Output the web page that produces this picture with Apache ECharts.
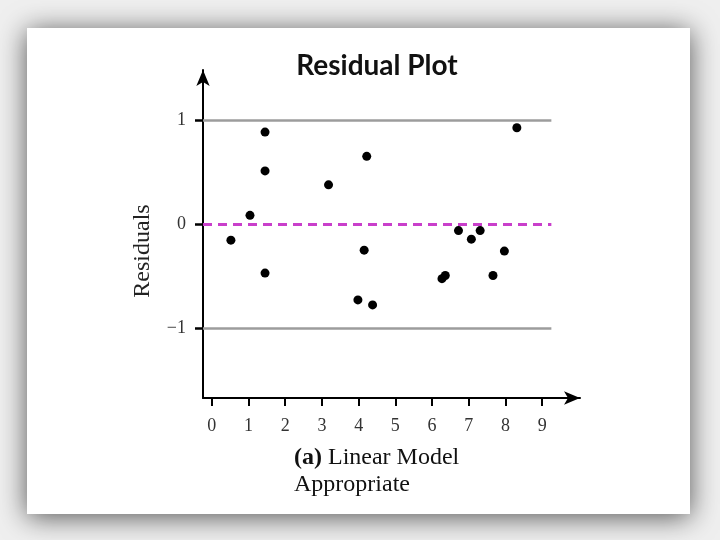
<!DOCTYPE html>
<html>
<head>
<meta charset="utf-8">
<script src="https://cdn.jsdelivr.net/npm/echarts@6/dist/echarts.min.js"></script>
<style>
  html, body { margin: 0; padding: 0; background: #efefef; }
  #chart { width: 720px; height: 540px; }
</style>
</head>
<body>
<div id="chart"></div>
<script>
// Data
const xValues = [0.52, 1.04, 1.45, 1.45, 1.45, 3.18, 3.98, 4.15, 4.22, 4.38, 6.27, 6.36, 6.72, 7.07, 7.31, 7.66, 7.97, 8.31];
const residuals = [-0.156, 0.083, 0.883, 0.51, -0.472, 0.376, -0.73, -0.252, 0.65, -0.778, -0.526, -0.495, -0.064, -0.146, -0.064, -0.495, -0.261, 0.925];
const xTicks = [0, 1, 2, 3, 4, 5, 6, 7, 8, 9];
const yTicks = [-1, 0, 1];
const refLines = [1, -1];
const zeroLine = 0;
const titleText = 'Residual Plot';
const yAxisTitle = 'Residuals';

const xMin = -0.24, xMax = 10.03, yMin = -1.673, yMax = 1.48, lineEnd = 9.25;

const points = xValues.map((x, i) => [x, residuals[i]]);

const markLines = refLines.map(v => [
  { coord: [xMin, v], lineStyle: { color: '#9c9c9c', width: 2.5, type: 'solid' } },
  { coord: [lineEnd, v] }
]);
markLines.push([
  { coord: [xMin, zeroLine], lineStyle: { color: '#c93fcb', width: 3, type: [9, 6] } },
  { coord: [lineEnd, zeroLine] }
]);

const chart = echarts.init(document.getElementById('chart'));
chart.setOption({
  backgroundColor: '#efefef',
  animation: false,
  graphic: [
    {
      type: 'rect', z: -10,
      shape: { x: 27, y: 28, width: 663, height: 486 },
      style: { fill: '#ffffff', shadowBlur: 26, shadowColor: 'rgba(0,0,0,0.65)', shadowOffsetX: 0, shadowOffsetY: 3 }
    },
    {
      type: 'text', x: 377, y: 66,
      style: {
        text: titleText, fontFamily: 'Lato', fontWeight: 'bold', fontSize: 28, fill: '#111',
        align: 'center', verticalAlign: 'middle'
      }
    },
    {
      type: 'text', x: 143, y: 251, rotation: Math.PI / 2,
      style: {
        text: yAxisTitle, fontFamily: 'Liberation Serif', fontSize: 24, fill: '#222',
        align: 'center', verticalAlign: 'middle'
      }
    },
    {
      type: 'text', x: 294, y: 471,
      style: {
        text: '{b|(a)} Linear Model\nAppropriate',
        fontFamily: 'Liberation Serif', fontSize: 24, fill: '#111', lineHeight: 27,
        align: 'left', verticalAlign: 'middle',
        rich: { b: { fontWeight: 'bold', fontFamily: 'Liberation Serif', fontSize: 24 } }
      }
    }
  ],
  grid: { left: 203, right: 140, top: 70, bottom: 142, containLabel: false },
  xAxis: {
    type: 'value', min: xMin, max: xMax,
    axisLine: { show: true, onZero: false, symbol: ['none', 'arrow'], symbolSize: [10, 16],
      lineStyle: { color: '#000', width: 2 } },
    axisTick: { show: true, customValues: xTicks, length: 8, lineStyle: { color: '#000', width: 2 } },
    axisLabel: { customValues: xTicks, margin: 19, fontFamily: 'Liberation Serif', fontSize: 18, color: '#333' },
    splitLine: { show: false }
  },
  yAxis: {
    type: 'value', min: yMin, max: yMax,
    axisLine: { show: true, onZero: false, symbol: ['none', 'arrow'], symbolSize: [10, 16],
      lineStyle: { color: '#000', width: 2 } },
    axisTick: { show: true, customValues: yTicks, length: 8, lineStyle: { color: '#000', width: 2.5 } },
    axisLabel: { customValues: yTicks, margin: 17, fontFamily: 'Liberation Serif', fontSize: 18, color: '#333',
      formatter: v => String(v).replace('-', '\u2212') },
    splitLine: { show: false }
  },
  series: [{
    type: 'scatter',
    data: points,
    symbolSize: 9,
    itemStyle: { color: '#000', opacity: 1 },
    z: 5,
    markLine: {
      silent: true, symbol: ['none', 'none'], label: { show: false },
      animation: false, z: 1,
      data: markLines
    }
  }]
});
</script>
</body>
</html>
